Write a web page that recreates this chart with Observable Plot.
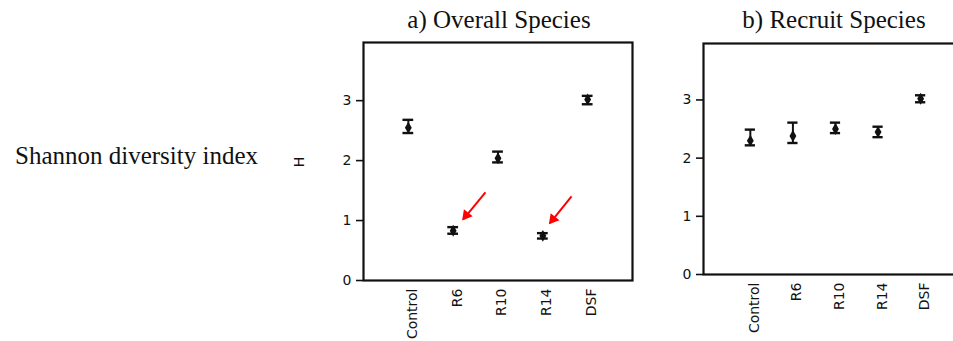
<!DOCTYPE html>
<html>
<head>
<meta charset="utf-8">
<script src="https://cdn.jsdelivr.net/npm/d3@7"></script>
<script src="https://cdn.jsdelivr.net/npm/@observablehq/plot@0.6"></script>
<style>
  body { margin: 0; background: #fff; }
  #root { position: relative; width: 953px; height: 341px; overflow: hidden; background: #fff; }
  #root > svg { position: absolute; top: 0; }
  #labels { left: 0; pointer-events: none; }
</style>
</head>
<body>
<div id="root"></div>
<script>
// Treatments along the x axis
const categories = ["Control", "R6", "R10", "R14", "DSF"];
const yTicks = [0, 1, 2, 3];

// a) Overall species: Shannon H, mean with error-bar limits
const overallMean = [2.55, 0.83, 2.04, 0.745, 3.02];
const overallLow  = [2.46, 0.78, 1.97, 0.70, 2.94];
const overallHigh = [2.68, 0.89, 2.15, 0.79, 3.08];

// b) Recruit species
const recruitMean = [2.30, 2.38, 2.50, 2.45, 3.02];
const recruitLow  = [2.22, 2.26, 2.43, 2.36, 2.96];
const recruitHigh = [2.49, 2.61, 2.61, 2.54, 3.08];

// Red call-out arrows in panel a (x in treatment index units, y in H)
const arrowTailX = [1.72, 3.64];
const arrowTailY = [1.47, 1.405];
const arrowTipX  = [1.225, 3.16];
const arrowTipY  = [1.02, 0.955];

const CAP = 0.12; // half-width of the error-bar caps, in treatment index units

function panel({mean, low, high, xDomain, width, marginLeft, marginRight, marginTop, marginBottom, arrows}) {
  const rows = categories.map((c, i) => ({i, c, mean: mean[i], low: low[i], high: high[i]}));
  const marks = [
    Plot.axisX({ticks: categories.map((c, i) => i), tickFormat: i => categories[i],
                tickSize: 0, tickRotate: -90, tickPadding: 8, dx: 4, fontSize: 14, fill: "#111", label: null}),
    Plot.axisY({ticks: yTicks, tickFormat: "d", tickSize: 7, tickPadding: 5, fontSize: 14, fill: "#111",
                stroke: "#111", strokeWidth: 1.6, label: null}),
    Plot.frame({stroke: "#111", strokeWidth: 2.2}),
    Plot.ruleX(rows, {x: "i", y1: "low", y2: "high", stroke: "#111", strokeWidth: 2}),
    Plot.ruleY(rows, {y: "low", x1: d => d.i - CAP, x2: d => d.i + CAP, stroke: "#111", strokeWidth: 2.4}),
    Plot.ruleY(rows, {y: "high", x1: d => d.i - CAP, x2: d => d.i + CAP, stroke: "#111", strokeWidth: 2.4}),
    Plot.dot(rows, {x: "i", y: "mean", symbol: "diamond", r: 3.6, fill: "#111"})
  ];
  if (arrows) {
    const a = arrowTipX.map((_, k) => ({x1: arrowTailX[k], y1: arrowTailY[k], x2: arrowTipX[k], y2: arrowTipY[k]}));
    marks.push(
      Plot.link(a, {x1: "x1", y1: "y1", x2: "x2", y2: "y2", stroke: "#f00", strokeWidth: 2}),
      Plot.dot(a, {x: "x2", y: "y2", symbol: "triangle", r: 4.2, fill: "#f00", rotate: 219, dx: 3, dy: -4})
    );
  }
  return Plot.plot({
    width, height: 341, marginLeft, marginRight, marginTop, marginBottom,
    style: {background: "transparent", fontFamily: "'DejaVu Sans', Verdana, sans-serif", fontSize: "14px", color: "#111", overflow: "visible"},
    x: {type: "linear", domain: xDomain},
    y: {domain: [0, 3.97]},
    marks
  });
}

const root = document.getElementById("root");

const a = panel({
  mean: overallMean, low: overallLow, high: overallHigh,
  xDomain: [-1, 5], width: 319, marginLeft: 40, marginRight: 10, marginTop: 42, marginBottom: 61, arrows: true
});
a.style.left = "323px";
root.appendChild(a);

const b = panel({
  mean: recruitMean, low: recruitLow, high: recruitHigh,
  xDomain: [-1.1, 5.5], width: 321, marginLeft: 30, marginRight: 10, marginTop: 43, marginBottom: 67, arrows: false
});
b.style.left = "673px";
root.appendChild(b);

// Titles and the side label
const svg = d3.select(root).append("svg")
  .attr("id", "labels").attr("width", 953).attr("height", 341);
const serif = "'Liberation Serif', 'Times New Roman', serif";
svg.append("text").attr("x", 499).attr("y", 28).attr("text-anchor", "middle")
  .attr("font-family", serif).attr("font-size", 25).attr("fill", "#111").text("a) Overall Species");
svg.append("text").attr("x", 834).attr("y", 28).attr("text-anchor", "middle")
  .attr("font-family", serif).attr("font-size", 25).attr("fill", "#111").text("b) Recruit Species");
svg.append("text").attr("x", 15).attr("y", 164).attr("text-anchor", "start")
  .attr("font-family", serif).attr("font-size", 25).attr("fill", "#111").text("Shannon diversity index");
svg.append("text").attr("transform", "translate(304,162) rotate(-90)").attr("text-anchor", "middle")
  .attr("font-family", "'DejaVu Sans', sans-serif").attr("font-size", 14).attr("fill", "#111").text("H");
</script>
</body>
</html>
